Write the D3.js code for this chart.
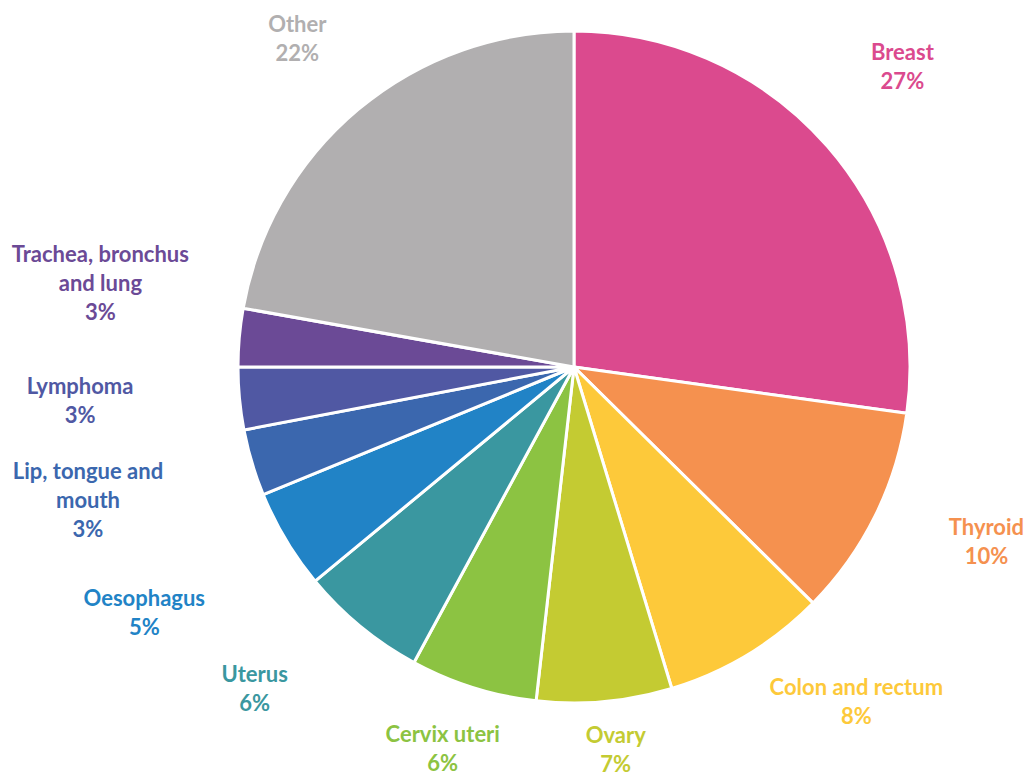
<!DOCTYPE html>
<html>
<head>
<meta charset="utf-8">
<script src="https://cdn.jsdelivr.net/npm/d3@7"></script>
<style>
  html, body { margin: 0; padding: 0; background: #ffffff; }
  svg { display: block; }
  text { font-family: "Lato", "Open Sans", sans-serif; font-weight: 700; }
</style>
</head>
<body>
<svg id="chart" width="1027" height="778"></svg>
<script>
// ---- data ----
const categories = ["Breast", "Thyroid", "Colon and rectum", "Ovary", "Cervix uteri", "Uterus",
  "Oesophagus", "Lip, tongue and mouth", "Lymphoma", "Trachea, bronchus and lung", "Other"];
const shares = [27.2, 10.2, 7.9, 6.5, 6.1, 6.1, 4.8, 3.2, 3.0, 2.8, 22.2];
const percentLabels = ["27%", "10%", "8%", "7%", "6%", "6%", "5%", "3%", "3%", "3%", "22%"];

// ---- styles / layout ----
const colors = ["#DB4A8E", "#F5914F", "#FDC93A", "#C4CB32", "#8CC342", "#3A97A0",
  "#2183C6", "#3B67AE", "#5058A3", "#6B4A96", "#B1AFB0"];
const labelLines = [["Breast"], ["Thyroid"], ["Colon and rectum"], ["Ovary"], ["Cervix uteri"], ["Uterus"],
  ["Oesophagus"], ["Lip, tongue and", "mouth"], ["Lymphoma"], ["Trachea, bronchus", "and lung"], ["Other"]];
const labelRadius = [445, 448, 438, 385, 404, 453, 495, 504, 495, 481, 429];
const labelAngleShift = [-1.4, -3.3, -9, -1, 1.5, 5.4, 1.2, 1.2, 1.5, 5.0, -0.2];

const W = 1027, H = 778;
const cx = 574, cy = 367, R = 336;
const lineH = 29, fontSize = 22;

const svg = d3.select("#chart");
const g = svg.append("g").attr("transform", `translate(${cx},${cy})`);

const pie = d3.pie().sort(null).value(d => d)(shares);
const arc = d3.arc().innerRadius(0).outerRadius(R);

g.selectAll("path.slice")
  .data(pie)
  .join("path")
  .attr("class", "slice")
  .attr("d", arc)
  .attr("fill", (d, i) => colors[i])
  .attr("stroke", "#ffffff")
  .attr("stroke-width", 3)
  .attr("stroke-linejoin", "round");

g.selectAll("text.lbl")
  .data(pie)
  .join("text")
  .attr("class", "lbl")
  .attr("text-anchor", "middle")
  .attr("font-size", fontSize)
  .attr("fill", (d, i) => colors[i])
  .each(function (d, i) {
    const mid = (d.startAngle + d.endAngle) / 2 + labelAngleShift[i] * Math.PI / 180;
    const x = Math.sin(mid) * labelRadius[i];
    const y = -Math.cos(mid) * labelRadius[i];
    const lines = labelLines[i].concat([percentLabels[i]]);
    const top = y - (lines.length - 1) * lineH / 2;
    const t = d3.select(this);
    lines.forEach((s, k) => {
      t.append("tspan")
        .attr("x", x)
        .attr("y", top + k * lineH)
        .attr("dy", "0.35em")
        .text(s);
    });
  });
</script>
</body>
</html>
